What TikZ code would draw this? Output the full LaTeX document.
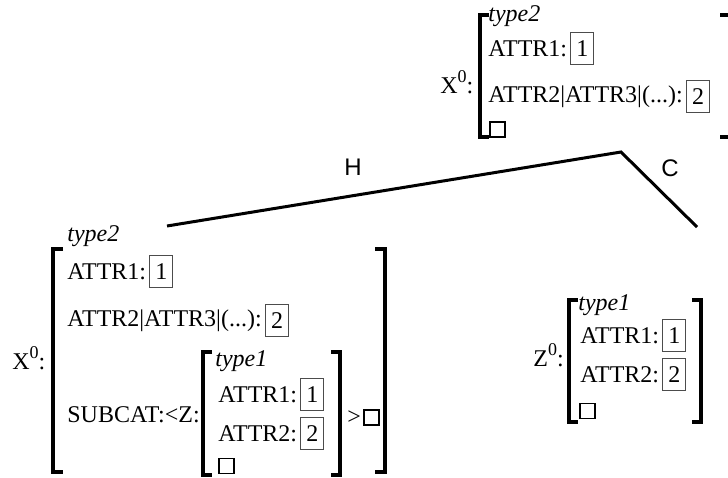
\documentclass[tikz,border=0pt]{standalone}
\usepackage{fontspec}
\setmainfont{Liberation Serif}
\newfontfamily\edgefont{Liberation Sans}
\usetikzlibrary{positioning}

\newcommand{\zerosup}{\raisebox{0.42em}{\fontsize{9}{9}\selectfont 0}}

\begin{document}
\begin{tikzpicture}[
		x=0.5pt, y=-0.5pt,
		font=\fontsize{12}{14}\selectfont,
		feat/.style ={anchor=base west, inner sep=0pt},
		tag/.style  ={draw=black!70, line width=0.5pt, inner sep=0pt, minimum width=11.5pt, minimum height=16pt},
		empt/.style ={draw, line width=0.9pt, inner sep=0pt, minimum size=7.5pt},
		brk/.style  ={line width=2.4pt, line join=miter},
		edge/.style ={line width=1.5pt},
		lbl/.style  ={font=\edgefont\fontsize{12}{14}\selectfont, inner sep=0pt}
		]
		\useasboundingbox (0,0) rectangle (728,477);
		
		% --- Mother: X0 (top) ---
		\node[feat] (xtop)  at (440,93)  {X\zerosup:};
		\node[feat] (ttop)  at (488,21)  {\textit{type2}};
		\node[feat] (a1top) at (488,56)  {ATTR1:};
		\node[tag, right=1.5pt of a1top] (v1top) {1};
		\node[feat] (a2top) at (488,102) {ATTR2|ATTR3|(...):};
		\node[tag, right=1.5pt of a2top] (v2top) {2};
		\node[empt] (etop)  at (497.5,129.5) {};
		
		\draw[brk] (489,15) -- (480,15) -- (480,137) -- (489,137);
		\draw[brk] (720,15) -- (730,15) -- (730,137) -- (720,137);
		
		% --- Tree branches ---
		\coordinate (root) at (621,152);
		\coordinate (head) at (167,226);
		\coordinate (comp) at (697,227);
		\draw[edge] (head) -- (root) -- (comp);
		\node[lbl] (hlab) at (353,167) {H};
		\node[lbl] (clab) at (670,168) {C};
		
		% --- Head daughter: X0 with SUBCAT ---
		\node[feat] (xleft)  at (12,369)  {X\zerosup:};
		\node[feat] (tleft)  at (67,241)  {\textit{type2}};
		\node[feat] (a1left) at (67,279)  {ATTR1:};
		\node[tag, right=1.5pt of a1left] (v1left) {1};
		\node[feat] (a2left) at (67,326)  {ATTR2|ATTR3|(...):};
		\node[tag, right=1.5pt of a2left] (v2left) {2};
		\node[feat] (subcat) at (67,422)  {SUBCAT:<Z:};
		
		% inner structure on the SUBCAT list
		\node[feat] (tsub)  at (215,366) {\textit{type1}};
		\node[feat] (a1sub) at (218,402) {ATTR1:};
		\node[tag, right=1.5pt of a1sub] (v1sub) {1};
		\node[feat] (a2sub) at (218,441) {ATTR2:};
		\node[tag, right=1.5pt of a2sub] (v2sub) {2};
		\node[empt] (esub)  at (226.5,466) {};
		\draw[brk] (212,352) -- (203,352) -- (203,475) -- (212,475);
		\draw[brk] (331,352) -- (340,352) -- (340,475) -- (331,475);
		
		\node[feat] (close) at (347,424) {>};
		\node[empt, right=0.8pt of close] (eclose) {};
		
		\draw[brk] (63,249) -- (53,249) -- (53,472) -- (63,472);
		\draw[brk] (375,249) -- (385,249) -- (385,472) -- (375,472);
		
		% --- Complement daughter: Z0 ---
		\node[feat] (zright) at (533,366) {Z\zerosup:};
		\node[feat] (tz)     at (578,310) {\textit{type1}};
		\node[feat] (a1z)    at (580,343) {ATTR1:};
		\node[tag, right=1.5pt of a1z] (v1z) {1};
		\node[feat] (a2z)    at (580,382) {ATTR2:};
		\node[tag, right=1.5pt of a2z] (v2z) {2};
		\node[empt] (ez)     at (587.5,411) {};
		\draw[brk] (578,300) -- (569,300) -- (569,422) -- (578,422);
		\draw[brk] (692,300) -- (701,300) -- (701,422) -- (692,422);
		
	\end{tikzpicture}
\end{document}
